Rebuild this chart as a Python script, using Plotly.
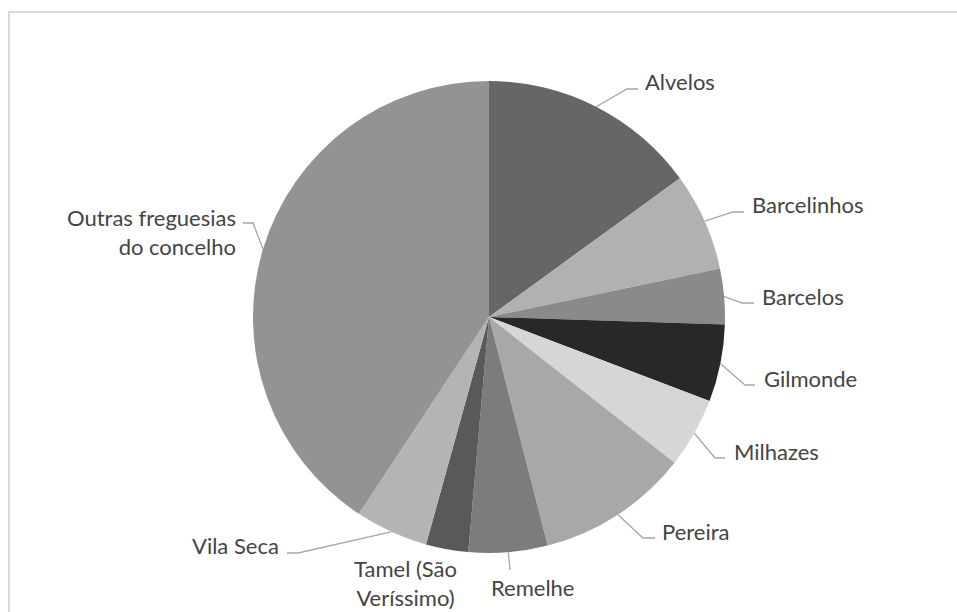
import math
import plotly.graph_objects as go

# ---- data ----
labels = ["Alvelos", "Barcelinhos", "Barcelos", "Gilmonde", "Milhazes",
          "Pereira", "Remelhe", "Tamel (São Veríssimo)", "Vila Seca",
          "Outras freguesias do concelho"]
label_text = ["Alvelos", "Barcelinhos", "Barcelos", "Gilmonde", "Milhazes",
              "Pereira", "Remelhe", "Tamel (São<br>Veríssimo)", "Vila Seca",
              "Outras freguesias<br>do concelho"]
values = [15.0, 6.7, 3.8, 5.3, 4.8, 10.4, 5.4, 2.9, 5.0, 40.7]
colors = ["#666666", "#b1b1b1", "#8a8a8a", "#282828", "#d6d6d6",
          "#a8a8a8", "#7c7c7c", "#595959", "#b4b4b4", "#939393"]

W, H = 957, 612
CX, CY, R = 489, 317, 236

# label layout (pixel coords): text anchor, anchor side, leader elbow & end (None = no leader)
label_layout = [
    dict(tx=643, ty=82, xa="left", elbow=(627, 89), end=(638, 89)),
    dict(tx=750, ty=205, xa="left", elbow=(733, 212), end=(744, 212)),
    dict(tx=760, ty=296, xa="left", elbow=(742, 303), end=(754, 303)),
    dict(tx=762, ty=378, xa="left", elbow=(745, 385), end=(755, 385)),
    dict(tx=732, ty=451, xa="left", elbow=(715, 458), end=(725, 458)),
    dict(tx=660, ty=531, xa="left", elbow=(643, 538), end=(655, 538)),
    dict(tx=532, ty=587, xa="center", elbow=None, end=(510, 570)),
    dict(tx=405, ty=583, xa="center", elbow=None, end=None),
    dict(tx=281, ty=545, xa="right", elbow=(298, 553), end=(287, 553)),
    dict(tx=238, ty=232, xa="right", elbow=(253, 223), end=(243, 223)),
]

def px(x):
    return x / W

def py(y):
    return 1 - y / H

fig = go.Figure(go.Pie(
    labels=labels, values=values, sort=False, direction="clockwise", rotation=0,
    marker=dict(colors=colors, line=dict(width=0)),
    textinfo="none", hoverinfo="label+percent", showlegend=False,
    domain=dict(x=[px(CX - R), px(CX + R)], y=[py(CY + R), py(CY - R)]),
))

total = sum(values)
cum = 0.0
shapes = []
annotations = []
for v, t, lay in zip(values, label_text, label_layout):
    mid = (cum + v / 2) / total * 2 * math.pi
    cum += v
    ex = CX + R * math.sin(mid)
    ey = CY - R * math.cos(mid)
    if lay["end"] is not None:
        pts = [(ex, ey)]
        if lay["elbow"] is not None:
            pts.append(lay["elbow"])
        pts.append(lay["end"])
        path = "M " + " L ".join(f"{px(a):.5f},{py(b):.5f}" for a, b in pts)
        shapes.append(dict(type="path", xref="paper", yref="paper", path=path,
                           line=dict(color="#a6a6a6", width=1.3)))
    annotations.append(dict(x=px(lay["tx"]), y=py(lay["ty"]), xref="paper", yref="paper",
                            text=t, showarrow=False, xanchor=lay["xa"], yanchor="middle",
                            align=lay["xa"] if lay["xa"] != "center" else "center",
                            font=dict(family="Lato", size=22, color="#444444")))

# chart frame
shapes.append(dict(type="rect", xref="paper", yref="paper",
                   x0=px(9), y0=py(640), x1=px(990), y1=py(12),
                   line=dict(color="#d9d9d9", width=2), fillcolor="rgba(0,0,0,0)", layer="below"))

fig.update_layout(
    width=W, height=H, margin=dict(l=0, r=0, t=0, b=0),
    paper_bgcolor="white", plot_bgcolor="white",
    shapes=shapes, annotations=annotations,
)

fig.write_html("out.html")
